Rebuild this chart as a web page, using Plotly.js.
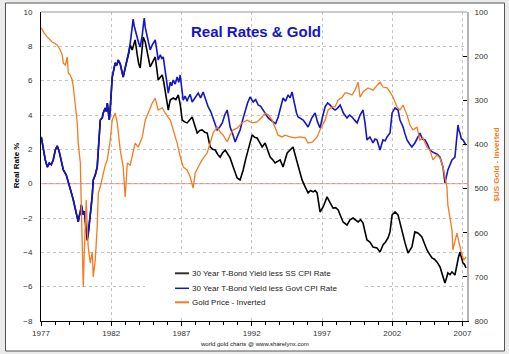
<!DOCTYPE html>
<html><head><meta charset="utf-8">
<script src="https://cdn.plot.ly/plotly-3.0.1.min.js"></script>
<style>html,body{margin:0;padding:0;background:#ebebeb;}#chart{width:509px;height:354px;}</style>
</head><body><div id="chart"></div>
<script>
const seriesNames = ['30 Year T-Bond Yield less SS CPI Rate', '30 Year T-Bond Yield less Govt CPI Rate', 'Gold Price - Inverted'];
const xTickVals = [1977, 1982, 1987, 1992, 1997, 2002, 2007];
const xTickText = ['1977', '1982', '1987', '1992', '1997', '2002', '2007'];
const yTickVals = [-8, -6, -4, -2, 0, 2, 4, 6, 8, 10];
const y2TickVals = [100, 200, 300, 400, 500, 600, 700, 800];
const zeroRate = 0;

const govtYears = [1977.02,1977.16,1977.30,1977.45,1977.59,1977.73,1977.87,1978.02,1978.16,1978.30,1978.45,1978.59,1978.80,1978.94,1979.15,1979.30,1979.44,1979.58,1979.65,1979.72,1979.80,1979.87,1979.94,1980.01,1980.08,1980.15,1980.22,1980.29,1980.36,1980.43,1980.51,1980.58,1980.65,1980.72,1980.86,1981.00,1981.08,1981.15,1981.22,1981.36,1981.43,1981.57,1981.65,1981.72,1981.79,1981.86,1981.93,1982.00,1982.07,1982.17,1982.28,1982.39,1982.50,1982.64,1982.75,1982.85,1982.99,1983.14,1983.25,1983.35,1983.45,1983.56,1983.63,1983.70,1983.85,1983.95,1984.06,1984.14,1984.21,1984.28,1984.35,1984.42,1984.56,1984.66,1984.77,1984.92,1985.03,1985.13,1985.24,1985.34,1985.49,1985.60,1985.70,1985.81,1985.91,1986.06,1986.13,1986.20,1986.30,1986.41,1986.55,1986.69,1986.80,1986.91,1987.01,1987.12,1987.26,1987.40,1987.48,1987.62,1987.76,1987.97,1988.19,1988.36,1988.54,1988.72,1988.90,1989.08,1989.25,1989.40,1989.54,1989.72,1989.90,1990.08,1990.25,1990.36,1990.46,1990.64,1990.82,1991.00,1991.17,1991.35,1991.53,1991.70,1991.88,1992.00,1992.10,1992.28,1992.46,1992.64,1992.81,1993.00,1993.17,1993.35,1993.52,1993.70,1993.88,1994.05,1994.23,1994.40,1994.59,1994.73,1994.87,1994.98,1995.08,1995.19,1995.30,1995.48,1995.66,1995.84,1996.01,1996.26,1996.51,1996.68,1996.86,1997.04,1997.22,1997.40,1997.58,1997.75,1997.93,1998.11,1998.29,1998.53,1998.78,1998.96,1999.14,1999.32,1999.50,1999.71,1999.92,2000.06,2000.20,2000.41,2000.63,2000.77,2000.91,2001.13,2001.34,2001.50,2001.63,2001.84,2001.99,2002.20,2002.41,2002.55,2002.77,2002.91,2003.05,2003.25,2003.40,2003.61,2003.80,2003.97,2004.15,2004.33,2004.50,2004.68,2004.86,2005.04,2005.22,2005.40,2005.61,2005.75,2005.86,2005.96,2006.11,2006.25,2006.46,2006.60,2006.68,2006.75,2006.82,2006.92,2007.03,2007.14,2007.25];
const govtRate = [2.72,2.0,1.4,0.97,1.2,1.1,1.38,1.96,2.2,1.85,1.2,0.8,0.5,0.04,-0.5,-0.95,-1.53,-2.1,-2.23,-1.9,-1.65,-1.24,-1.5,-1.82,-1.6,-2.23,-2.6,-3.16,-2.81,-2.4,-1.94,-1.3,-0.66,0.22,0.5,0.97,1.96,3.0,3.71,3.83,4.12,4.41,4.2,4.7,4.29,3.71,4.4,5.17,6.21,6.6,7.03,6.9,7.2,6.97,6.6,6.21,6.74,7.2,7.7,8.19,8.9,9.59,9.2,8.95,8.54,8.2,7.96,8.3,8.66,9.2,9.65,9.1,8.54,8.1,7.79,8.08,8.2,8.37,7.8,7.2,7.5,7.3,7.38,6.7,6.04,5.28,5.6,5.92,5.7,6.04,5.8,6.21,5.9,6.33,5.6,4.87,5.1,4.8,4.99,5.2,4.76,5.0,5.28,5.0,5.34,4.9,4.47,4.2,3.83,3.5,3.13,3.3,3.54,4.0,4.29,3.8,3.3,2.9,2.43,2.8,3.13,3.7,4.29,4.7,5.05,4.9,4.76,4.9,4.58,4.5,4.29,4.0,3.83,3.7,3.59,3.5,3.88,4.5,4.99,4.8,5.17,5.0,5.34,4.9,4.47,4.1,3.88,3.8,3.71,3.5,3.3,3.8,4.12,3.6,3.24,3.9,4.47,4.7,4.58,4.4,4.29,4.4,4.58,4.1,3.83,4.0,3.88,3.7,3.54,4.0,4.29,3.54,2.55,2.72,2.37,2.6,2.55,1.96,2.55,2.5,2.72,2.95,4.12,4.41,4.29,3.71,3.3,2.9,2.55,2.3,2.14,2.37,2.7,2.95,2.6,2.55,2.3,1.96,1.85,1.79,1.7,1.55,0.97,0.04,0.5,0.8,1.1,1.38,1.55,2.55,3.42,3.1,2.95,2.6,2.55,2.4,2.25];

const ssYears = [1977.02,1977.16,1977.30,1977.45,1977.59,1977.73,1977.87,1978.02,1978.16,1978.30,1978.45,1978.59,1978.80,1978.94,1979.15,1979.30,1979.44,1979.58,1979.65,1979.72,1979.80,1979.87,1979.94,1980.01,1980.08,1980.15,1980.22,1980.29,1980.36,1980.43,1980.51,1980.58,1980.65,1980.72,1980.86,1981.00,1981.08,1981.15,1981.22,1981.36,1981.43,1981.57,1981.65,1981.72,1981.79,1981.86,1981.93,1982.00,1982.07,1982.17,1982.28,1982.39,1982.50,1982.64,1982.75,1982.85,1982.99,1983.14,1983.25,1983.35,1983.49,1983.60,1983.70,1983.85,1983.95,1984.06,1984.17,1984.28,1984.42,1984.56,1984.66,1984.77,1984.95,1985.13,1985.24,1985.34,1985.49,1985.63,1985.74,1985.84,1985.95,1986.06,1986.13,1986.20,1986.41,1986.60,1986.77,1986.91,1987.05,1987.22,1987.40,1987.58,1987.76,1987.94,1988.12,1988.30,1988.47,1988.65,1988.83,1989.04,1989.22,1989.40,1989.58,1989.75,1989.93,1990.11,1990.29,1990.46,1990.68,1990.82,1990.96,1991.17,1991.28,1991.39,1991.56,1991.74,1991.88,1992.03,1992.20,1992.38,1992.56,1992.74,1992.95,1993.13,1993.31,1993.48,1993.66,1993.84,1994.02,1994.23,1994.38,1994.52,1994.73,1994.94,1995.08,1995.23,1995.44,1995.58,1995.80,1996.01,1996.19,1996.37,1996.51,1996.65,1996.76,1996.86,1997.08,1997.22,1997.36,1997.58,1997.79,1997.97,1998.15,1998.33,1998.50,1998.78,1998.99,1999.21,1999.39,1999.57,1999.75,1999.92,2000.06,2000.20,2000.41,2000.63,2000.91,2001.13,2001.34,2001.52,2001.70,2001.84,2001.99,2002.20,2002.41,2002.55,2002.70,2002.91,2003.12,2003.40,2003.61,2003.83,2004.11,2004.29,2004.47,2004.65,2004.83,2005.00,2005.18,2005.40,2005.61,2005.75,2005.86,2005.96,2006.11,2006.25,2006.46,2006.60,2006.71,2006.82,2006.92,2007.03,2007.14,2007.25];
const ssRate = [2.72,2.0,1.4,0.97,1.2,1.1,1.38,1.96,2.2,1.85,1.2,0.8,0.5,0.04,-0.5,-0.95,-1.53,-2.1,-2.23,-1.9,-1.65,-1.24,-1.5,-1.82,-1.6,-2.23,-2.7,-3.3,-3.0,-2.5,-1.94,-1.3,-0.66,0.22,0.5,0.97,1.96,3.0,3.71,3.83,4.12,4.41,4.2,4.7,4.29,3.71,4.4,5.17,6.21,6.6,7.03,6.9,7.2,6.97,6.6,6.21,6.74,7.2,7.6,8.08,7.79,8.1,8.37,7.5,7.0,6.74,7.8,8.54,8.25,7.61,7.2,6.8,7.1,7.38,6.7,6.04,6.2,6.33,5.9,5.46,4.9,4.29,4.6,4.87,4.99,4.9,5.17,4.6,3.71,3.6,3.54,3.7,3.88,3.4,2.95,3.1,3.13,3.0,2.95,2.14,2.0,1.96,1.7,1.55,1.8,1.96,1.7,1.5,0.97,0.6,0.33,0.22,0.5,0.8,1.4,1.96,2.4,2.84,2.7,2.66,2.4,2.14,2.37,1.9,1.55,1.4,1.21,1.3,1.38,0.97,1.4,1.79,1.96,2.14,1.7,1.21,0.68,0.22,-0.19,-0.54,-0.4,-0.48,-0.4,-0.54,-1.1,-1.65,-1.36,-1.0,-0.77,-1.12,-1.42,-1.4,-1.53,-1.9,-2.23,-2.41,-2.11,-2.0,-2.1,-2.23,-2.1,-2.29,-2.8,-3.28,-3.4,-3.69,-3.74,-3.98,-3.57,-3.4,-3.16,-2.81,-1.82,-1.65,-1.82,-2.3,-2.81,-3.45,-4.04,-3.69,-2.81,-2.87,-3.1,-3.5,-3.86,-4.1,-4.33,-4.4,-4.56,-4.85,-5.43,-5.78,-5.5,-5.2,-5.3,-5.14,-5.32,-4.62,-4.3,-3.98,-4.3,-4.62,-4.7,-4.91];

const goldYears = [1977.02,1977.23,1977.45,1977.66,1977.80,1978.02,1978.16,1978.37,1978.51,1978.59,1978.73,1978.87,1978.94,1979.08,1979.22,1979.30,1979.44,1979.58,1979.65,1979.80,1979.87,1979.94,1980.01,1980.08,1980.15,1980.22,1980.29,1980.36,1980.51,1980.65,1980.72,1980.86,1981.00,1981.08,1981.22,1981.43,1981.57,1981.72,1981.79,1981.93,1982.07,1982.28,1982.43,1982.64,1982.85,1982.99,1983.07,1983.14,1983.35,1983.49,1983.70,1983.92,1984.21,1984.42,1984.63,1984.92,1985.13,1985.34,1985.63,1985.84,1986.20,1986.41,1986.69,1986.91,1987.12,1987.40,1987.62,1987.83,1987.97,1988.19,1988.47,1988.83,1989.04,1989.25,1989.54,1989.75,1989.97,1990.25,1990.46,1990.68,1990.96,1991.32,1991.67,1992.03,1992.38,1992.74,1992.95,1993.17,1993.45,1993.66,1993.88,1994.16,1994.37,1994.73,1995.08,1995.44,1995.80,1996.01,1996.30,1996.65,1996.86,1997.22,1997.43,1997.72,1997.93,1998.15,1998.43,1998.64,1998.78,1999.14,1999.35,1999.57,1999.71,1999.92,2000.27,2000.63,2000.91,2001.13,2001.34,2001.63,2001.84,2002.06,2002.34,2002.55,2002.77,2003.05,2003.26,2003.47,2003.76,2003.97,2004.18,2004.47,2004.68,2004.90,2005.18,2005.40,2005.61,2005.75,2005.89,2005.96,2006.11,2006.25,2006.32,2006.46,2006.60,2006.68,2006.82,2006.96,2007.10,2007.25];
const goldPrice = [136,148,157,163,168,172,175,186,197,216,220,202,238,243,254,270,306,351,397,442,542,617,723,646,571,526,587,632,669,644,700,662,587,510,496,465,447,435,419,390,345,329,351,413,451,519,481,442,447,428,397,406,383,345,329,306,295,322,317,329,345,367,397,428,451,458,474,499,465,451,435,419,397,374,361,372,379,394,379,367,363,351,345,351,349,338,329,333,345,363,379,383,379,383,385,383,385,397,395,383,367,345,322,315,315,299,293,283,283,288,277,259,293,281,272,277,268,259,270,272,281,293,315,322,311,333,356,367,361,390,385,406,413,435,424,431,451,474,496,537,571,594,639,621,601,612,635,650,662,655];

const FONT = 'Liberation Sans, Arial, Helvetica, sans-serif';
const BLUE = '#1414c8';
const ORANGE = '#f77a1e';
const GRID = '#c4c4c4';
// pixel -> paper helpers (plot area: x 41..467, y 12..321)
const PX = v => (v - 41) / 426;
const PY = v => 1 - (v - 12) / 309;

const traces = [
  {x: ssYears, y: ssRate, type: 'scatter', mode: 'lines', name: seriesNames[0], line: {color: '#000000', width: 1.6}},
  {x: govtYears, y: govtRate, type: 'scatter', mode: 'lines', name: seriesNames[1], line: {color: BLUE, width: 1.6}},
  {x: goldYears, y: goldPrice, type: 'scatter', mode: 'lines', name: seriesNames[2], yaxis: 'y2', line: {color: ORANGE, width: 1.3}}
];

const legendColors = ['#333333', BLUE, ORANGE];
const legendWidths = [2, 1.5, 2];
const legendY = [273.3, 288.3, 302.3];

const shapes = [
  {type: 'rect', xref: 'paper', yref: 'paper', x0: PX(5.5), x1: PX(504.5), y0: PY(351), y1: PY(3), fillcolor: '#ffffff', line: {color: '#555555', width: 1}, layer: 'below'},
  {type: 'line', xref: 'paper', yref: 'y', x0: 0, x1: 1, y0: zeroRate, y1: zeroRate, line: {color: '#f07878', width: 1}, layer: 'between'},
  {type: 'line', xref: 'paper', yref: 'paper', x0: 0, x1: 1, y0: 1, y1: 1, line: {color: '#999999', width: 1}, layer: 'above'},
  {type: 'rect', xref: 'paper', yref: 'paper', x0: PX(145), x1: PX(362), y0: PY(318), y1: PY(258), fillcolor: '#ffffff', line: {width: 0}, layer: 'above'}
];
const annotations = [];
seriesNames.forEach((n, i) => {
  shapes.push({type: 'line', xref: 'paper', yref: 'paper', x0: PX(175), x1: PX(189), y0: PY(legendY[i]), y1: PY(legendY[i]), line: {color: legendColors[i], width: legendWidths[i]}, layer: 'above'});
  annotations.push({text: n, xref: 'paper', yref: 'paper', x: PX(189.5), y: PY(legendY[i]), xanchor: 'left', yanchor: 'middle', showarrow: false, font: {family: FONT, size: 8, color: '#222222'}});
});
annotations.push({text: '<b>Real Rate %</b>', xref: 'paper', yref: 'paper', x: PX(16.8), y: 0.5032, textangle: -90, xanchor: 'center', yanchor: 'middle', showarrow: false, font: {family: FONT, size: 8, color: '#000000'}});
annotations.push({text: '<b>$US Gold - Inverted</b>', xref: 'paper', yref: 'paper', x: PX(496.6), y: 0.505, textangle: -90, xanchor: 'center', yanchor: 'middle', showarrow: false, font: {family: FONT, size: 8, color: ORANGE}});
annotations.push({text: 'world gold charts @ www.sharelynx.com', xref: 'paper', yref: 'paper', x: PX(254.5), y: PY(344), xanchor: 'center', yanchor: 'middle', showarrow: false, font: {family: FONT, size: 6, color: '#111111'}});

const layout = {
  width: 509, height: 354,
  margin: {l: 41, r: 42, t: 12, b: 33, pad: 0},
  paper_bgcolor: '#ebebeb', plot_bgcolor: '#ffffff',
  showlegend: false,
  font: {family: FONT, size: 8, color: '#333333'},
  title: {text: '<b>Real Rates & Gold</b>', font: {family: FONT, size: 15, color: BLUE}, x: 0.503, xanchor: 'center', xref: 'container', y: 0.9113, yref: 'container', yanchor: 'middle'},
  xaxis: {
    range: [1977, 2007.32], tickmode: 'array', tickvals: xTickVals, ticktext: xTickText,
    showgrid: true, gridcolor: GRID, griddash: '3px,3px', gridwidth: 1,
    showline: true, linecolor: '#000000', linewidth: 1, zeroline: false,
    ticks: 'outside', ticklen: 4, tickcolor: '#000000', tickfont: {family: FONT, size: 8, color: '#333333'},
    minor: {tickmode: 'linear', tick0: 1977, dtick: 1, ticks: 'outside', ticklen: 3, tickcolor: '#000000', showgrid: false},
    fixedrange: true
  },
  yaxis: {
    range: [-8, 10], tickmode: 'array', tickvals: yTickVals,
    showgrid: true, gridcolor: GRID, griddash: '3px,3px', gridwidth: 1,
    zeroline: false,
    showline: true, linecolor: '#000000', linewidth: 1,
    ticks: '', ticklabelstandoff: 6, tickfont: {family: FONT, size: 8, color: '#333333'},
    fixedrange: true
  },
  yaxis2: {
    overlaying: 'y', side: 'right', range: [800, 100], tickmode: 'array', tickvals: y2TickVals,
    showgrid: false, zeroline: false, showline: true, linecolor: '#b4b4b4', linewidth: 2,
    ticks: 'inside', ticklen: 4, tickcolor: '#000000', ticklabelstandoff: 4,
    tickfont: {family: FONT, size: 8, color: '#333333'}, fixedrange: true
  },
  shapes: shapes,
  annotations: annotations
};

Plotly.newPlot('chart', traces, layout, {displayModeBar: false, staticPlot: true});
</script>
</body></html>
